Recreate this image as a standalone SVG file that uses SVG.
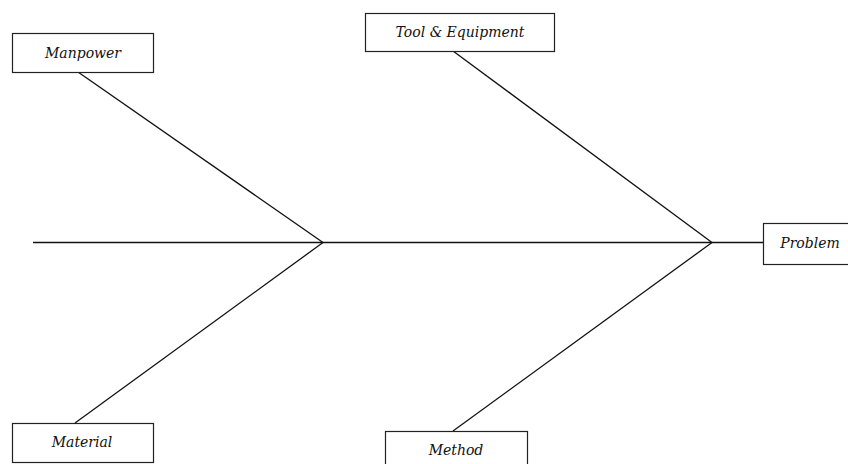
<svg xmlns="http://www.w3.org/2000/svg" width="848" height="464" viewBox="0 0 848 464">
<style>
.box{fill:#fff;stroke:#222;stroke-width:1.2}
.lbl{font-family:"DejaVu Serif","Liberation Serif",serif;font-style:italic;font-size:14px;fill:#111;text-anchor:middle}
.bone{stroke:#111;stroke-width:1.3;fill:none}
</style>
<rect width="848" height="464" fill="#fff"/>
<g id="connectors">
<line class="bone" x1="33" y1="242.5" x2="763" y2="242.5"/>
<line class="bone" x1="78" y1="72" x2="323" y2="242.5"/>
<line class="bone" x1="75" y1="423" x2="323" y2="242.5"/>
<line class="bone" x1="453" y1="51" x2="712" y2="242.5"/>
<line class="bone" x1="453" y1="431" x2="712" y2="242.5"/>
</g>
<g id="manpower">
<rect class="box" x="12.5" y="33.5" width="141" height="39"/>
<text class="lbl" x="83" y="57.5">Manpower</text>
</g>
<g id="tool-equipment">
<rect class="box" x="365.5" y="13.5" width="189" height="38"/>
<text class="lbl" x="460" y="37">Tool &amp; Equipment</text>
</g>
<g id="problem">
<rect class="box" x="763.5" y="223.5" width="90" height="41"/>
<text class="lbl" x="810" y="248">Problem</text>
</g>
<g id="material">
<rect class="box" x="12.5" y="423.5" width="141" height="39"/>
<text class="lbl" x="82" y="447">Material</text>
</g>
<g id="method">
<rect class="box" x="385.5" y="431.5" width="142" height="40"/>
<text class="lbl" x="456" y="455">Method</text>
</g>
</svg>
